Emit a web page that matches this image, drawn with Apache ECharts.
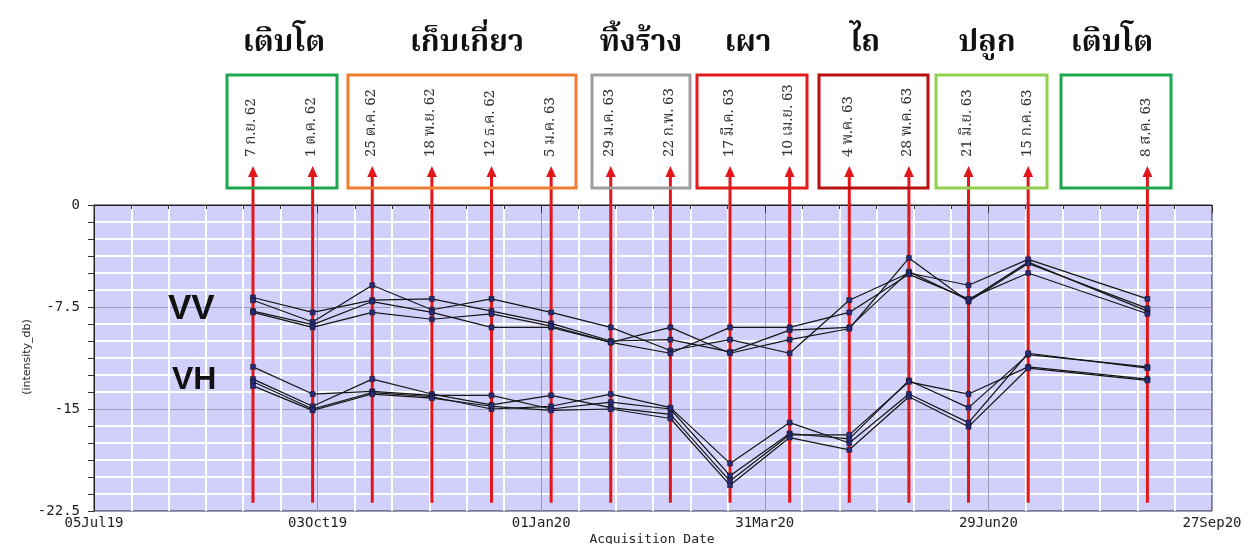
<!DOCTYPE html>
<html>
<head>
<meta charset="utf-8">
<script src="https://cdn.jsdelivr.net/npm/echarts@6/dist/echarts.min.js"></script>
<style>
  html, body { margin: 0; padding: 0; background: #fff; }
  #chart { width: 1251px; height: 544px; }
</style>
</head>
<body>
<div id="chart"></div>
<script>
// acquisition dates (Sentinel-1 passes) and the Thai labels written in the boxes
const acqDates = ['2019-09-07', '2019-10-01', '2019-10-25', '2019-11-18', '2019-12-12', '2020-01-05',
  '2020-01-29', '2020-02-22', '2020-03-17', '2020-04-10', '2020-05-04', '2020-05-28',
  '2020-06-21', '2020-07-15', '2020-09-01'];
const dateLabels = ['7 ก.ย. 62', '1 ต.ค. 62', '25 ต.ค. 62', '18 พ.ย. 62', '12 ธ.ค. 62', '5 ม.ค. 63',
  '29 ม.ค. 63', '22 ก.พ. 63', '17 มี.ค. 63', '10 เม.ย. 63', '4 พ.ค. 63', '28 พ.ค. 63',
  '21 มิ.ย. 63', '15 ก.ค. 63', '8 ส.ค. 63'];

// VV backscatter (dB), one array per plot
const vv1 = [-6.8, -7.9, -7.0, -6.9, -7.8, -8.7, -10.0, -9.9, -10.8, -9.2, -9.0, -4.9, -7.0, -4.2, -7.8];
const vv2 = [-7.0, -8.6, -5.9, -7.7, -6.9, -7.9, -9.0, -10.7, -9.9, -10.9, -7.0, -5.0, -5.9, -4.0, -6.9];
const vv3 = [-7.8, -8.8, -7.1, -7.9, -9.0, -9.0, -10.1, -9.0, -10.9, -9.9, -9.1, -3.9, -7.1, -4.3, -7.6];
const vv4 = [-7.9, -9.0, -7.9, -8.4, -8.0, -8.9, -10.1, -10.9, -9.0, -9.0, -7.9, -5.1, -6.9, -5.0, -8.0];

// VH backscatter (dB)
const vh1 = [-11.9, -13.9, -13.7, -14.0, -14.0, -15.0, -14.5, -15.0, -19.9, -16.8, -17.2, -12.9, -14.9, -11.0, -11.9];
const vh2 = [-12.8, -14.8, -12.8, -13.9, -14.7, -14.0, -14.9, -15.4, -20.3, -16.9, -16.9, -13.0, -13.9, -11.9, -12.8];
const vh3 = [-13.0, -15.0, -13.8, -14.1, -15.0, -14.8, -13.9, -14.9, -19.0, -16.0, -17.5, -13.9, -16.0, -10.9, -12.0];
const vh4 = [-13.3, -15.1, -13.9, -14.2, -14.8, -15.1, -15.0, -15.7, -20.6, -17.1, -18.0, -14.1, -16.3, -12.0, -12.9];

// x axis runs in days from the first tick
const axisStart = '2019-07-05';
const axisDays = 450;
const tickDays = 90;

// growth-stage groups above the chart
const stageNames = ['เติบโต', 'เก็บเกี่ยว', 'ทิ้งร้าง', 'เผา', 'ไถ', 'ปลูก', 'เติบโต'];
const stageColors = ['#1ea84e', '#ed7d31', '#9e9e9e', '#e41b1b', '#b80f0f', '#92d050', '#1ea84e'];

const DAY = 86400000;
const t0 = Date.parse(axisStart);
const dayOf = s => (Date.parse(s) - t0) / DAY;
const MONTHS = ['Jan', 'Feb', 'Mar', 'Apr', 'May', 'Jun', 'Jul', 'Aug', 'Sep', 'Oct', 'Nov', 'Dec'];
function fmtDay(v) {
  const d = new Date(t0 + v * DAY);
  const dd = String(d.getUTCDate()).padStart(2, '0');
  return dd + MONTHS[d.getUTCMonth()] + String(d.getUTCFullYear()).slice(2);
}

const thaiFont = "'Noto Serif Thai', 'Noto Sans Thai', 'Norasi', 'Loma', 'Garuda', 'Liberation Serif', serif";

const chart = echarts.init(document.getElementById('chart'));

// box layout (pixel space, annotation only)
const boxes = [
  [227, 337], [348, 576], [592, 690], [697, 807], [819, 928], [936, 1047], [1061, 1171]
];
const titleX = [284, 467, 641, 748, 865, 987, 1112];

const graphic = [];
boxes.forEach((b, i) => {
  graphic.push({
    type: 'rect', z: 10,
    shape: { x: b[0], y: 75, width: b[1] - b[0], height: 113 },
    style: { fill: 'none', stroke: stageColors[i], lineWidth: 3 }
  });
  graphic.push({
    type: 'text', z: 10, x: titleX[i], y: 46,
    style: {
      text: stageNames[i], fill: '#111', align: 'center', verticalAlign: 'middle',
      font: 'bold 30px ' + thaiFont
    }
  });
});
graphic.push({ type: 'text', z: 10, x: 168, y: 309,
  style: { text: 'VV', fill: '#111', verticalAlign: 'middle', font: 'bold 35px "Liberation Sans", Arial, sans-serif' } });
graphic.push({ type: 'text', z: 10, x: 172, y: 380,
  style: { text: 'VH', fill: '#111', verticalAlign: 'middle', font: 'bold 32px "Liberation Sans", Arial, sans-serif' } });
// axis titles
graphic.push({ type: 'text', z: 10, x: 27, y: 357, rotation: Math.PI / 2,
  style: { text: '(intensity_db)', fill: '#222', align: 'center', verticalAlign: 'middle', font: '11px "DejaVu Sans"' } });
graphic.push({ type: 'text', z: 10, x: 652, y: 533,
  style: { text: 'Acquisition Date', fill: '#222', align: 'center', verticalAlign: 'top', font: '13px "DejaVu Sans Mono"' } });

function lineSeries(name, arr) {
  return {
    name, type: 'line', z: 3,
    data: acqDates.map((d, i) => [dayOf(d), arr[i]]),
    symbol: 'rect', symbolSize: 5,
    itemStyle: { color: '#2a2a78', borderColor: '#111', borderWidth: 0.5 },
    lineStyle: { color: '#151515', width: 1.2 }
  };
}

const option = {
  animation: false,
  backgroundColor: '#fff',
  graphic,
  grid: {
    left: 94, top: 205, right: 39, bottom: 33,
    outerBoundsMode: 'none', containLabel: false,
    show: true, backgroundColor: '#d0d0fa', borderColor: '#222', borderWidth: 1
  },
  xAxis: {
    type: 'value', min: 0, max: axisDays, interval: tickDays,
    axisLine: { lineStyle: { color: '#222' } },
    axisTick: { length: 8, lineStyle: { color: '#333' } },
    minorTick: { show: true, splitNumber: 6, length: 4, lineStyle: { color: '#333' } },
    axisLabel: { formatter: fmtDay, fontFamily: 'DejaVu Sans Mono', fontSize: 14, color: '#222', margin: 5 },
    splitLine: { show: true, lineStyle: { color: '#9a9ab8', width: 1 } },
    minorSplitLine: { show: true, lineStyle: { color: '#ffffff', width: 2 } }
  },
  yAxis: {
    type: 'value', min: -22.5, max: 0, interval: 7.5,
    axisLine: { show: true, lineStyle: { color: '#222' } },
    axisTick: { show: true, length: 6, lineStyle: { color: '#333' } },
    minorTick: { show: true, splitNumber: 6, length: 6, lineStyle: { color: '#333' } },
    axisLabel: { fontFamily: 'DejaVu Sans Mono', fontSize: 14, color: '#222', margin: 14 },
    splitLine: { show: true, lineStyle: { color: '#9a9ab8', width: 1 } },
    minorSplitLine: { show: true, lineStyle: { color: '#ffffff', width: 2 } }
  },
  series: [
    {
      // red arrows from the acquisition dates up into the label boxes
      type: 'custom', z: 2, clip: false,
      data: acqDates.map((d, i) => [dayOf(d), i]),
      renderItem: function (params, api) {
        const x = api.coord([api.value(0), -22.5])[0];
        const yBot = api.coord([0, -21.9])[1];
        const i = api.value(1);
        return {
          type: 'group',
          children: [
            { type: 'line', shape: { x1: x, y1: yBot, x2: x, y2: 176 },
              style: { stroke: '#e3161b', lineWidth: 3 } },
            { type: 'polygon', shape: { points: [[x - 5, 177], [x + 5, 177], [x, 166]] },
              style: { fill: '#e3161b' } },
            { type: 'text', x: x, y: 157, rotation: Math.PI / 2,
              style: { text: dateLabels[i], fill: '#333', align: 'left', verticalAlign: 'middle',
                font: '15px ' + thaiFont } }
          ]
        };
      }
    },
    lineSeries('VV1', vv1), lineSeries('VV2', vv2), lineSeries('VV3', vv3), lineSeries('VV4', vv4),
    lineSeries('VH1', vh1), lineSeries('VH2', vh2), lineSeries('VH3', vh3), lineSeries('VH4', vh4)
  ]
};

chart.setOption(option);
</script>
</body>
</html>
